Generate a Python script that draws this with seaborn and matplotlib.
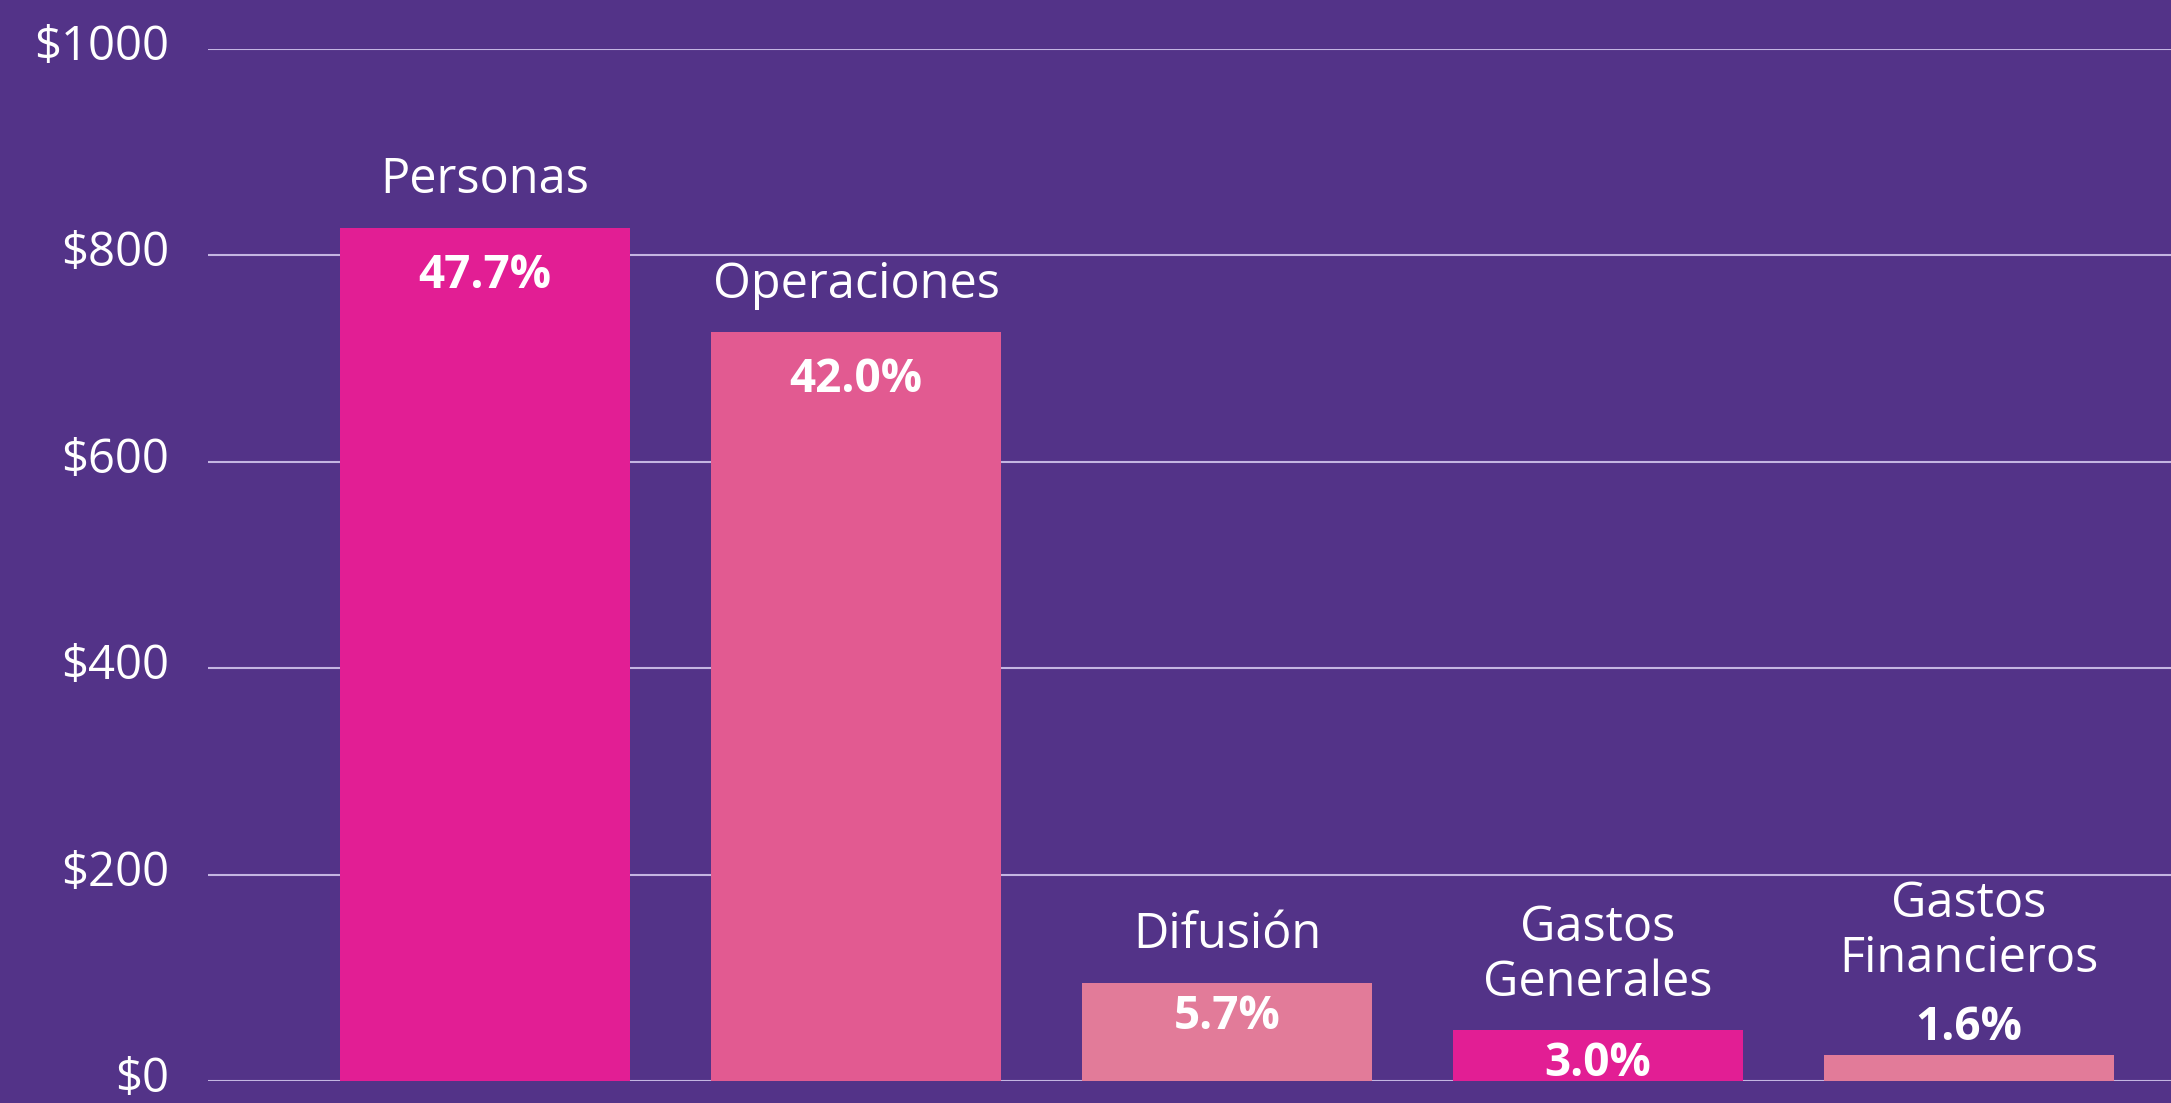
import pandas as pd
import matplotlib.pyplot as plt
import matplotlib.transforms as mtransforms
import seaborn as sns

# datos
categorias = ['Personas', 'Operaciones', 'Difusión', 'Gastos\nGenerales', 'Gastos\nFinancieros']
montos = [826, 725, 95, 49, 25]
porcentajes = ['47.7%', '42.0%', '5.7%', '3.0%', '1.6%']
colores = ['#E21E94', '#E25A91', '#E27B99', '#E21E94', '#E27B99']
ticks = [0, 200, 400, 600, 800, 1000]
tick_labels = ['$0', '$200', '$400', '$600', '$800', '$1000']

fondo = '#533388'
df = pd.DataFrame({'categoria': categorias, 'monto': montos})

sns.set_style('white')
plt.rcParams['font.family'] = ['Open Sans', 'DejaVu Sans']

fig = plt.figure(figsize=(21.71, 11.03), dpi=100, facecolor=fondo)
ax = fig.add_axes([0.0958, 0.0199, 0.9042, 0.9361])
ax.set_facecolor(fondo)

sns.barplot(data=df, x='categoria', y='monto', hue='categoria', palette=colores,
            legend=False, width=0.78, saturation=1, linewidth=0, ax=ax, zorder=3)

ax.set_ylim(0, 1000)
ax.set_xlim(-0.747, 4.545)
ax.set_yticks(ticks)
ax.set_yticklabels(tick_labels, fontsize=34, color='white')
ax.tick_params(axis='y', length=0, pad=28)
ax.set_xticks([])
ax.set_xlabel('')
ax.set_ylabel('')
ax.grid(axis='y', color='#C4B6E2', linewidth=1.5, zorder=0)
ax.set_axisbelow(True)
for s in ax.spines.values():
    s.set_visible(False)

# subir un poco las etiquetas del eje y
desp = mtransforms.ScaledTranslation(0, 5 / 72, fig.dpi_scale_trans)
for lab in ax.get_yticklabels():
    lab.set_transform(lab.get_transform() + desp)

for i, (cat, val, pct) in enumerate(zip(categorias, montos, porcentajes)):
    if val > 500:
        off_pct, off_cat = -34, 25
    elif val > 40:
        off_pct, off_cat = -24, 25
    else:
        off_pct, off_cat = 20, 60
    ax.annotate(pct, (i, val), xytext=(0, off_pct), textcoords='offset points',
                ha='center', va='center', fontsize=33, fontweight='bold', color='white')
    ax.annotate(cat, (i, val), xytext=(0, off_cat), textcoords='offset points',
                ha='center', va='baseline', fontsize=35, color='white', linespacing=1.15,
                multialignment='center')

plt.savefig('out.png', dpi=100, facecolor=fondo)
